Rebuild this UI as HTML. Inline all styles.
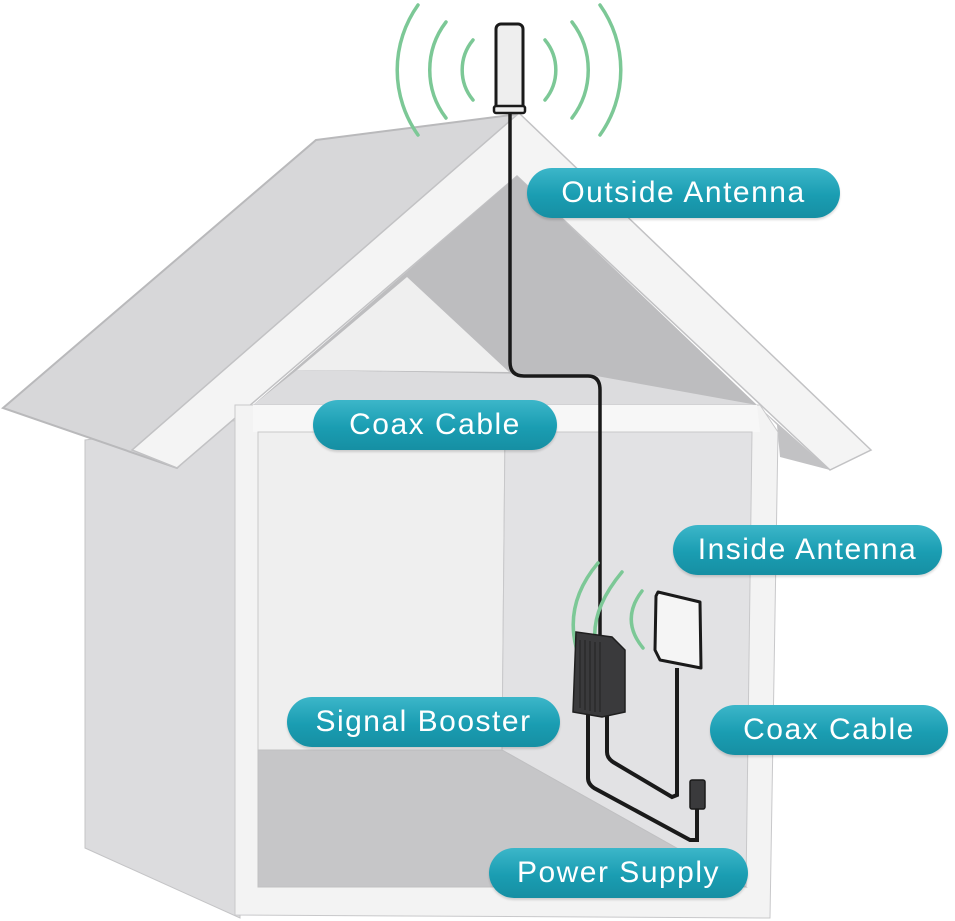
<!DOCTYPE html>
<html><head><meta charset="utf-8"><style>
html,body{margin:0;padding:0;background:#fff;}
.pill{position:absolute;height:50px;border-radius:25px;background:linear-gradient(#3cb6c9,#1a9db2 55%,#168fa3);color:#fff;font-family:"Liberation Sans",sans-serif;font-size:30px;letter-spacing:1.5px;line-height:50px;text-align:center;box-shadow:0 2px 2px rgba(0,0,0,.15);}
</style></head><body>
<div style="position:relative;width:955px;height:921px;overflow:hidden;">
<svg width="955" height="921" style="position:absolute;left:0;top:0">
<!-- left side wall -->
<polygon points="85,440 240,420 240,918 85,848" fill="#dcdcde" stroke="#c4c4c6"/>
<!-- left roof slab -->
<polygon points="316,140 519,114 177,468 3,408" fill="#d7d7d9" stroke="#b9b9bb" stroke-width="2"/>
<!-- right eave underside -->
<polygon points="757,405 830,470 780,457 777,425" fill="#c2c2c4"/>
<!-- front fascia -->
<polygon points="519,113 871,450 830,470 517,176 177,468 132,450" fill="#f4f4f4" stroke="#c2c2c4" stroke-width="1.5"/>
<!-- attic -->
<polygon points="517,176 757,405 253,405" fill="#bdbdbf"/>
<polygon points="407,277 509,372 297,370" fill="#efefef"/>
<polygon points="297,370 591,375 757,405 253,405" fill="#dcdcde"/>
<!-- front wall frame -->
<polygon points="235,405 760,405 778,432 770,918 235,915" fill="#f3f3f3" stroke="#c8c8ca"/>
<polygon points="253,405 757,405 760,432 253,432" fill="#f7f7f7"/>
<!-- interior -->
<polygon points="258,432 505,432 502,750 258,750" fill="#efefef" stroke="#c8c8ca"/>
<polygon points="505,432 752,432 746,887 502,750" fill="#e2e2e4" stroke="#c8c8ca"/>
<polygon points="258,750 502,750 746,887 258,887" fill="#c6c6c8" stroke="#c0c0c2"/>
<!-- outside antenna arcs -->
<g fill="none" stroke="#7cc896" stroke-width="3.5" stroke-linecap="round">
<path d="M473,40 A47,47 0 0 0 473,100"/>
<path d="M446,22 A79,79 0 0 0 446,118"/>
<path d="M418,5 A112,112 0 0 0 418,135"/>
<path d="M545,40 A47,47 0 0 1 545,100"/>
<path d="M572,22 A79,79 0 0 1 572,118"/>
<path d="M600,5 A112,112 0 0 1 600,135"/>
</g>
<!-- cable -->
<path d="M510,112 L510,362 Q510,376 524,376 L588,376 Q600,376 600,390 L600,640" fill="none" stroke="#1a1a1a" stroke-width="3.5"/>
<!-- antenna -->
<rect x="496" y="24" width="27" height="86" rx="5" fill="#eeeeee" stroke="#1a1a1a" stroke-width="3"/>
<rect x="494" y="106" width="31" height="7" rx="2" fill="#eeeeee" stroke="#1a1a1a" stroke-width="2.5"/>
<!-- inside arcs -->
<g fill="none" stroke="#7cc896" stroke-width="3.5" stroke-linecap="round">
<path d="M598,563 Q550,620 595,688"/>
<path d="M622,572 Q578,625 605,670"/>
<path d="M642,591 Q620,620 643,648"/>
</g>
<!-- cables bottom -->
<g fill="none" stroke="#1a1a1a" stroke-width="4">
<path d="M588,712 L588,778 Q588,784 594,788 L690,840 L697,840 L697,808"/>
<path d="M607,712 L607,752 Q607,758 613,762 L672,797 L677,795 L677,668"/>
</g>
<!-- booster -->
<polygon points="576,632 612,637 625,650 625,712 602,717 573,712" fill="#3a3a3c" stroke="#1f1f1f" stroke-width="1.5"/>
<g stroke="#222" stroke-width="1">
<line x1="580" y1="640" x2="580" y2="708"/><line x1="585" y1="640" x2="585" y2="710"/><line x1="590" y1="641" x2="590" y2="711"/><line x1="595" y1="642" x2="595" y2="712"/><line x1="600" y1="642" x2="600" y2="712"/>
</g>
<!-- inside antenna -->
<polygon points="658,592 700,602 701,668 660,660 655,650 656,596" fill="#f5f5f5" stroke="#1a1a1a" stroke-width="3" stroke-linejoin="round"/>
<!-- power supply -->
<rect x="690" y="780" width="15" height="29" rx="2" fill="#3a3a3c" stroke="#1a1a1a" stroke-width="1.5"/>
</svg>
<div class="pill" style="left:527px;top:168px;width:313px;">Outside Antenna</div>
<div class="pill" style="left:313px;top:400px;width:244px;">Coax Cable</div>
<div class="pill" style="left:673px;top:525px;width:269px;">Inside Antenna</div>
<div class="pill" style="left:287px;top:697px;width:273px;">Signal Booster</div>
<div class="pill" style="left:710px;top:705px;width:238px;">Coax Cable</div>
<div class="pill" style="left:489px;top:848px;width:259px;">Power Supply</div>
</div>
</body></html>
